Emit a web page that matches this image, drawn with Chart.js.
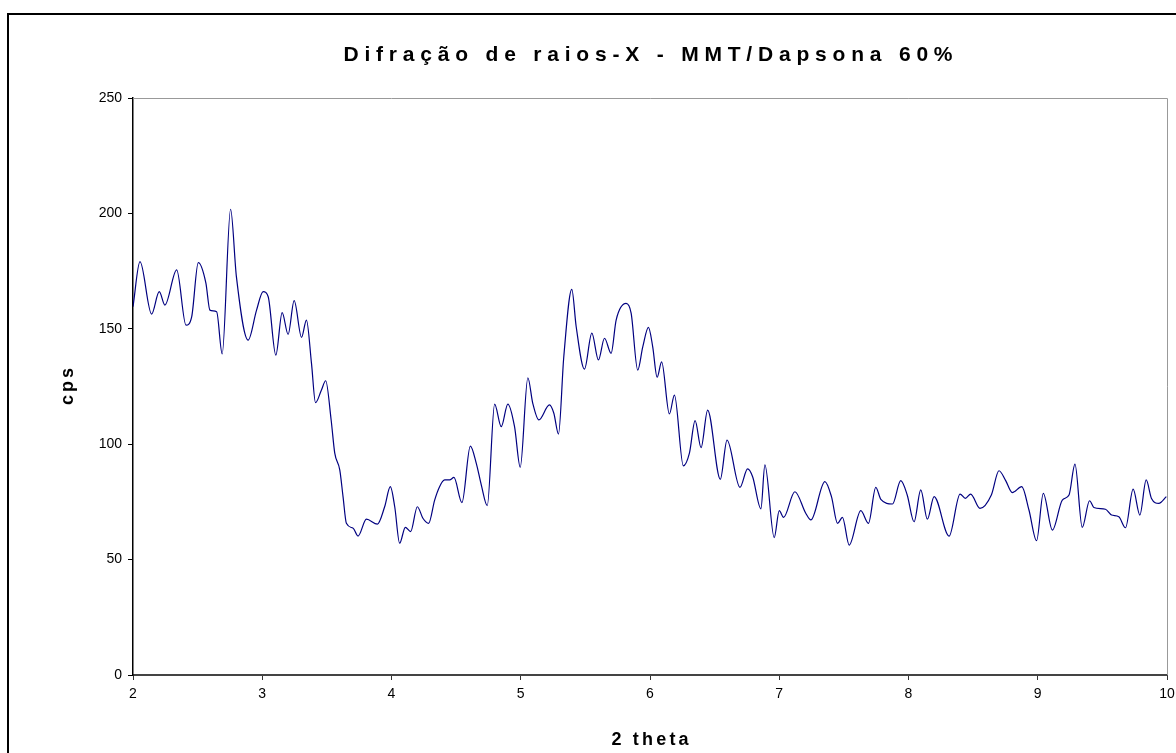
<!DOCTYPE html>
<html>
<head>
<meta charset="utf-8">
<title>Difração de raios-X - MMT/Dapsona 60%</title>
<script src="https://cdn.jsdelivr.net/npm/chart.js@4.4.1/dist/chart.umd.min.js"></script>
<style>
    html, body { margin: 0; padding: 0; background: #fff; overflow: hidden; }
    #wrap { position: relative; width: 1176px; height: 753px; }
    #frame { position: absolute; left: 7px; top: 13px; width: 1200px; height: 800px; border: 2px solid #000; pointer-events: none; }
</style>
</head>
<body>
<div id="wrap">
    <div id="frame"></div>
    <canvas id="xrdChart"></canvas>
</div>
<script>
"use strict";

// chart texts
var chartTitle = "Difração de raios-X - MMT/Dapsona 60%";
var xAxisTitle = "2 theta";
var yAxisTitle = "cps";

// axis ranges
var xTicks = [2, 3, 4, 5, 6, 7, 8, 9, 10];
var yTicks = [0, 50, 100, 150, 200, 250];

// diffractogram (2 theta, cps)
var thetaValues = [
    2.000, 2.054, 2.144, 2.203, 2.247, 2.338, 2.410, 2.454, 2.505, 2.564,
    2.595, 2.647, 2.690, 2.755, 2.800, 2.891, 2.956, 3.007, 3.046, 3.105,
    3.154, 3.200, 3.247, 3.304, 3.342, 3.381, 3.412, 3.458, 3.491, 3.533,
    3.561, 3.600, 3.625, 3.651, 3.703, 3.741, 3.806, 3.891, 3.947, 3.991,
    4.025, 4.063, 4.107, 4.148, 4.200, 4.243, 4.287, 4.334, 4.372, 4.411,
    4.450, 4.483, 4.545, 4.610, 4.656, 4.695, 4.741, 4.798, 4.849, 4.900,
    4.952, 4.996, 5.055, 5.093, 5.140, 5.222, 5.256, 5.292, 5.333, 5.395,
    5.429, 5.493, 5.550, 5.601, 5.648, 5.699, 5.738, 5.815, 5.854, 5.905,
    5.944, 5.988, 6.021, 6.055, 6.090, 6.150, 6.189, 6.258, 6.305, 6.349,
    6.395, 6.446, 6.544, 6.596, 6.696, 6.755, 6.794, 6.858, 6.889, 6.961,
    7.000, 7.033, 7.121, 7.206, 7.245, 7.353, 7.404, 7.451, 7.489, 7.541,
    7.631, 7.690, 7.747, 7.786, 7.876, 7.940, 7.990, 8.043, 8.095, 8.146,
    8.198, 8.314, 8.399, 8.440, 8.481, 8.553, 8.641, 8.700, 8.752, 8.803,
    8.876, 8.932, 8.991, 9.043, 9.113, 9.190, 9.242, 9.288, 9.344, 9.401,
    9.434, 9.524, 9.571, 9.627, 9.679, 9.738, 9.790, 9.839, 9.880, 9.937,
    9.995
];
var cpsValues = [
    159.6, 179.1, 156.4, 166.1, 160.3, 175.5, 151.6, 155.2, 178.7, 169.8,
    158.1, 157.4, 139.1, 201.8, 172.6, 145.1, 158.1, 166.1, 163.9, 138.6,
    157.0, 147.6, 162.2, 146.3, 153.8, 135.0, 118.0, 123.5, 127.5, 110.5,
    96.1, 88.8, 77.3, 65.7, 63.6, 60.2, 67.5, 65.4, 72.9, 81.6,
    72.9, 57.1, 64.0, 62.1, 72.9, 67.9, 65.7, 75.8, 81.6, 84.5,
    84.5, 85.6, 74.7, 99.2, 91.7, 82.3, 73.4, 117.4, 107.6, 117.4,
    107.6, 90.0, 128.8, 117.7, 110.5, 117.0, 113.4, 104.4, 137.9, 167.1,
    150.9, 132.5, 148.1, 136.5, 145.9, 139.4, 153.8, 161.0, 156.8, 132.1,
    142.2, 150.6, 142.2, 129.0, 135.7, 113.1, 121.3, 90.6, 96.1, 110.2,
    98.5, 114.8, 84.8, 101.8, 81.3, 89.3, 85.9, 72.0, 91.0, 59.5,
    71.2, 68.3, 79.4, 70.0, 67.2, 83.8, 77.3, 65.7, 68.3, 56.3,
    71.2, 65.7, 81.3, 76.1, 74.1, 84.2, 78.0, 66.4, 80.2, 67.5,
    77.3, 60.2, 78.4, 76.5, 78.4, 72.2, 78.0, 88.5, 84.2, 79.0,
    81.6, 71.5, 58.2, 78.7, 62.8, 75.8, 78.0, 91.4, 64.0, 75.5,
    72.6, 71.8, 69.3, 68.6, 63.8, 80.5, 69.3, 84.5, 76.5, 74.4,
    77.3
];

var points = thetaValues.map(function(t, i) {
    return { x: t, y: cpsValues[i] };
});

// draw spaced-out bold text centred on (x, y)
function spacedText(ctx, text, x, y, spacing) {
    ctx.letterSpacing = spacing + "px";
    // trailing spacing is added after the last glyph too, so shift back half of it
    ctx.fillText(text, x + spacing / 2, y);
    ctx.letterSpacing = "0px";
}

// grey frame on top/right of plot area + titles, drawn like the excel chart
var excelLook = {
    id: "excelLook",
    beforeDatasetsDraw: function(chart) {
        var ctx = chart.ctx;
        var a = chart.chartArea;
        ctx.save();
        ctx.strokeStyle = "#999999";
        ctx.lineWidth = 1;
        ctx.beginPath();
        ctx.moveTo(a.left, a.top + 0.5);
        ctx.lineTo(a.right + 0.5, a.top + 0.5);
        ctx.lineTo(a.right + 0.5, a.bottom);
        ctx.stroke();
        ctx.restore();
    },
    afterDraw: function(chart) {
        var ctx = chart.ctx;
        var a = chart.chartArea;
        var midX = (a.left + a.right) / 2;
        ctx.save();
        ctx.fillStyle = "#000";
        ctx.textAlign = "center";
        ctx.textBaseline = "middle";

        ctx.font = "bold 21px 'Liberation Sans', Arial, sans-serif";
        spacedText(ctx, chartTitle, midX - 2, 55, 5.8);

        ctx.font = "bold 18px 'Liberation Sans', Arial, sans-serif";
        spacedText(ctx, xAxisTitle, midX, 740, 3.2);

        ctx.translate(68, (a.top + a.bottom) / 2);
        ctx.rotate(-Math.PI / 2);
        spacedText(ctx, yAxisTitle, 0, 0, 3);
        ctx.restore();
    }
};

var tickFont = { family: "'Liberation Sans', Arial, sans-serif", size: 14 };

new Chart(document.getElementById("xrdChart"), {
    type: "line",
    data: {
        datasets: [{
            data: points,
            borderColor: "#000080",
            borderWidth: 1.2,
            pointRadius: 0,
            fill: false,
            cubicInterpolationMode: "monotone"
        }]
    },
    options: {
        responsive: true,
        maintainAspectRatio: false,
        animation: false,
        layout: { padding: { top: 98, right: 9, bottom: 0, left: 0 } },
        plugins: {
            legend: { display: false },
            title: { display: false },
            tooltip: { enabled: false }
        },
        scales: {
            x: {
                type: "linear",
                min: xTicks[0],
                max: xTicks[xTicks.length - 1],
                afterBuildTicks: function(scale) {
                    scale.ticks = xTicks.map(function(v) { return { value: v }; });
                },
                afterFit: function(scale) {
                    scale.height = 78;
                    // the "10" label may run to the page edge like in the original
                    scale.paddingRight = 0;
                },
                grid: { drawOnChartArea: false, drawTicks: true, tickLength: 5, tickColor: "#333" },
                border: { color: "#444", width: 2 },
                ticks: { color: "#000", font: tickFont, padding: 6, maxRotation: 0 }
            },
            y: {
                min: yTicks[0],
                max: yTicks[yTicks.length - 1],
                afterBuildTicks: function(scale) {
                    scale.ticks = yTicks.map(function(v) { return { value: v }; });
                },
                afterFit: function(scale) { scale.width = 133; },
                grid: { drawOnChartArea: false, drawTicks: true, tickLength: 5, tickColor: "#000" },
                border: { color: "#000", width: 1.5 },
                ticks: { color: "#000", font: tickFont, padding: 6 }
            }
        }
    },
    plugins: [excelLook]
});
</script>
</body>
</html>
